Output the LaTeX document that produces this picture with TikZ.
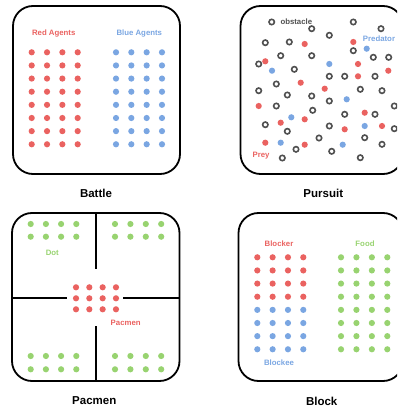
\documentclass[tikz,border=0pt]{standalone}
\usepackage{fontspec}
\setmainfont{Liberation Sans}
\definecolor{cred}{RGB}{234,98,96}
\definecolor{cblue}{RGB}{122,166,226}
\definecolor{cgreen}{RGB}{152,211,112}
\definecolor{cgray}{RGB}{80,80,80}
\tikzset{
  envbox/.style={draw=black, line width=1.8pt, rounded corners=20pt},
  wall/.style={draw=black, line width=1.6pt},
  lbl/.style={inner sep=0pt, font=\bfseries\fontsize{7.8}{9}\selectfont},
  ttl/.style={inner sep=0pt, font=\bfseries\fontsize{11.5}{13}\selectfont},
  ring/.style={draw=cgray, line width=1.6pt},
}
\newcommand{\rdot}[3]{\fill[#1] (#2,#3) circle[radius=3.1];}
\newcommand{\obst}[2]{\draw[ring] (#1,#2) circle[radius=2.7];}
\begin{document}
\begin{tikzpicture}[x=1pt,y=-1pt]
\useasboundingbox (0,0) rectangle (397,411);
\begin{scope}
\clip (0,0) rectangle (397,411);
% ---------- Battle ----------
\draw[envbox] (13,6) rectangle (180,174);
\node[lbl, text=cred] (redlbl) at (53.7,33.3) {Red Agents};
\node[lbl, text=cblue] (bluelbl) at (139.3,33.3) {Blue Agents};
\foreach \i in {0,...,3}{
  \foreach \j in {0,...,7}{
    \rdot{cred}{31.7+15.33*\i}{52.3+13.14*\j}
    \rdot{cblue}{116+15.33*\i}{52.3+13.14*\j}
  }
}
\node[ttl] (battle) at (96,193) {Battle};
% ---------- Pursuit ----------
\draw[envbox] (240.5,6) rectangle (403,174);
\foreach \x/\y in {271.7/22, 311.7/28.7, 353.3/22, 381/28.7, 329.3/35.3, 265.3/42.7,
  289.3/42, 353.3/50.7, 280.7/55.7, 311.7/55.7, 373.3/57.3, 388.7/57.3, 258.7/64,
  294.3/69.3, 329.3/76.3, 344.7/76.3, 375/76.3, 276.3/84, 258.7/90.7, 360.3/89.3,
  382/90.7, 287.3/95, 311.7/96, 329.3/101, 276.3/106, 394.3/106, 312.7/110.3,
  344.7/114.3, 375/114.3, 265.3/124.7, 329.3/126, 394.3/128.7, 287.3/131.3,
  319/138, 364.7/137.7, 296/149.3, 331.7/151.3, 382/144.3, 282.3/158, 360.3/157.7}
  {\obst{\x}{\y}}
\foreach \x/\y in {304.7/44, 353.3/42, 265.3/61.3, 358/64, 358/76.3, 388.3/70.7,
  300.7/82.7, 324.7/88.7, 258.7/106, 364.7/112.7, 280.7/122.7, 304.7/119.3,
  344.7/129.3, 382/126, 265.3/142.7, 304.7/144.7}
  {\rdot{cred}{\x}{\y}}
\foreach \x/\y in {366.7/48.7, 272/70.7, 329.3/64, 346.7/99.3, 291.3/117.3,
  364.7/126, 280.7/142.7, 342.7/144.7}
  {\rdot{cblue}{\x}{\y}}
\node[lbl, text=cgray, anchor=west] (obslbl) at (280.3,21.3) {obstacle};
\node[lbl, text=cblue] (predlbl) at (379,39) {Predator};
\node[lbl, text=cred] (preylbl) at (261,155.3) {Prey};
\node[ttl] (pursuit) at (323.3,193.3) {Pursuit};
% ---------- Pacmen ----------
\draw[envbox] (12,213) rectangle (179.5,381);
\draw[wall] (95.7,213) -- (95.7,269);
\draw[wall] (95.7,326) -- (95.7,381);
\draw[wall] (12,297.7) -- (66.7,297.7);
\draw[wall] (123.3,297.7) -- (179.5,297.7);
\foreach \i in {0,...,3}{
  \foreach \y in {224,236.7,356,369.3}{
    \rdot{cgreen}{30.7+15.2*\i}{\y}
    \rdot{cgreen}{115+15.4*\i}{\y}
  }
  \foreach \j in {0,...,2}{
    \rdot{cred}{76+13.33*\i}{287.3+11*\j}
  }
}
\node[lbl, text=cgreen] (dotlbl) at (52.3,253.3) {Dot};
\node[lbl, text=cred] (paclbl) at (125.7,323.3) {Pacmen};
\node[ttl] (pacmen) at (94.3,401) {Pacmen};
% ---------- Block ----------
\draw[envbox] (238.5,213) rectangle (403,381);
\foreach \i in {0,...,3}{
  \foreach \j in {0,...,3}{
    \rdot{cred}{257.3+15.33*\i}{257.3+13.14*\j}
  }
  \foreach \j in {4,...,7}{
    \rdot{cblue}{257.3+15.33*\i}{257.3+13.14*\j}
  }
  \foreach \j in {0,...,7}{
    \rdot{cgreen}{341+15.43*\i}{257.3+13.14*\j}
  }
}
\node[lbl, text=cred] (blockerlbl) at (279,243.3) {Blocker};
\node[lbl, text=cgreen] (foodlbl) at (365,243.3) {Food};
\node[lbl, text=cblue] (blockeelbl) at (279,362.3) {Blockee};
\node[ttl] (block) at (321.7,401) {Block};
\end{scope}
\end{tikzpicture}
\end{document}
